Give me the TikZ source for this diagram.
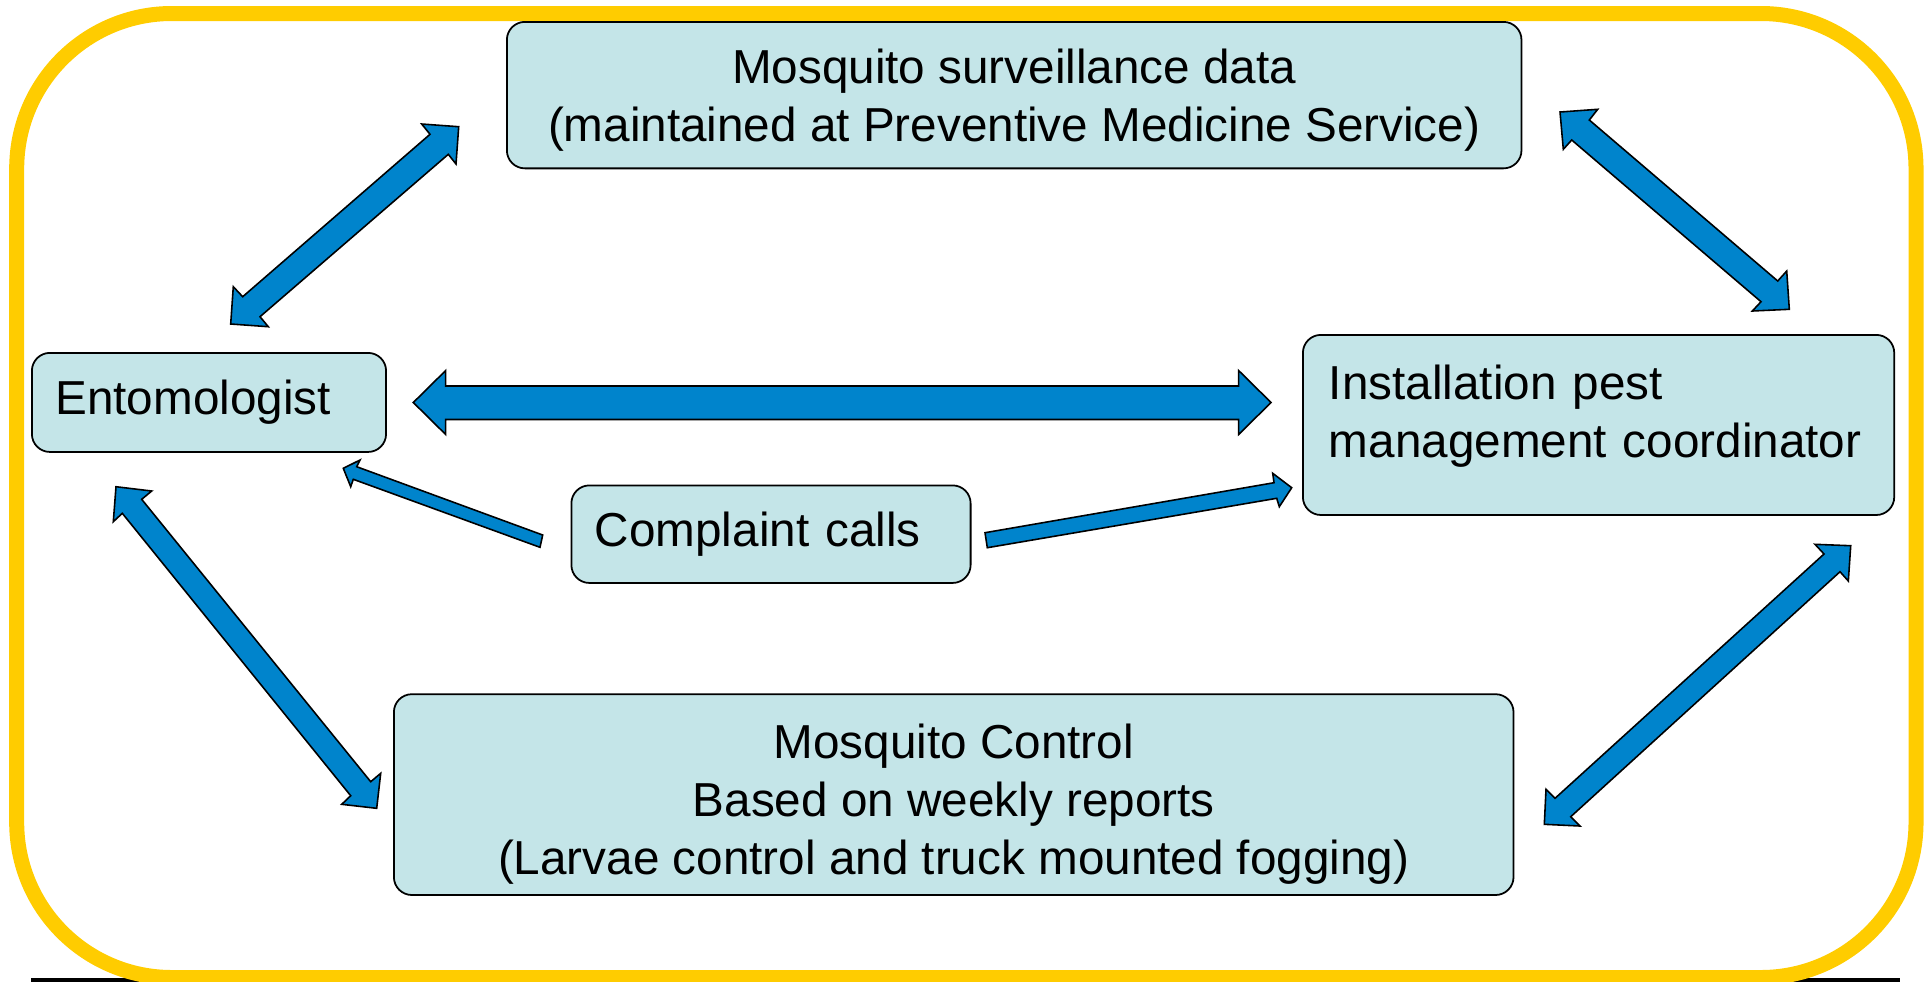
\documentclass[tikz,border=0pt]{standalone}
\usepackage{fontspec}
\setmainfont{Liberation Sans}
\definecolor{boxfill}{RGB}{196,229,232}
\definecolor{arrowblue}{RGB}{0,132,204}
\definecolor{frameyellow}{RGB}{255,204,0}
\tikzset{
  box/.style={draw=black, line width=0.5pt, fill=boxfill, rounded corners=0.18cm,
    anchor=north west, font=\fontsize{13.55pt}{16.5pt}\selectfont},
  leftbox/.style={box, align=left, inner xsep=#1},
  blockarrow/.style={draw=black, line width=0.45pt, fill=arrowblue, line join=miter},
}
\begin{document}
\begin{tikzpicture}[x=0.01cm, y=-0.01cm]
\useasboundingbox (0,0) rectangle (1931,981);
\clip (0,0) rectangle (1931,981);
% bottom black rule and yellow frame
\fill[black] (31,977.7) rectangle (1900,995);
\draw[frameyellow, line width=0.15cm, rounded corners=1.55cm] (16.7,13.5) rectangle (1916,977.5);

% boxes
\node[box, minimum width=10.14cm, minimum height=1.464cm] (data) at (506,21)
  {\raisebox{-0.06cm}[\height][\depth]{\begin{tabular}{@{}c@{}}Mosquito surveillance data\\(maintained at Preventive Medicine Service)\end{tabular}}};
\node[leftbox=0.235cm, text width=3.07cm, minimum height=0.99cm] (ent) at (31,352) {Entomologist};
\node[leftbox=0.26cm, text width=5.39cm, minimum height=1.80cm] (ipm) at (1302,334)
  {\raisebox{0.08cm}[\height][\depth]{\begin{tabular}{@{}l@{}}Installation pest\\management coordinator\end{tabular}}};
\node[leftbox=0.235cm, text width=3.52cm, minimum height=0.975cm] (calls) at (570.5,484.5) {Complaint calls};
\node[box, minimum width=11.19cm, minimum height=2.007cm] (ctrl) at (393,693.3)
  {\raisebox{-0.10cm}[\height][\depth]{\begin{tabular}{@{}c@{}}Mosquito Control\\Based on weekly reports\\(Larvae control and truck mounted fogging)\end{tabular}}};

% block arrows
% Entomologist <-> surveillance data
\draw[blockarrow] (458.7,126.7) -- (421.7,124) -- (430,134.3) -- (242.7,296.7) -- (233.3,286.7)
  -- (230.7,324) -- (268.3,326.7) -- (260,316.7) -- (448.3,154.3) -- (456,164) -- cycle;
% surveillance data <-> coordinator
\draw[blockarrow] (1560,112) -- (1597.7,109.3) -- (1589.3,120) -- (1777.7,281) -- (1786.7,271)
  -- (1789.3,309.3) -- (1752.3,311) -- (1761,301.7) -- (1571.7,140) -- (1563.3,149.3) -- cycle;
% Entomologist <-> coordinator
\draw[blockarrow] (413.3,402.5) -- (445.7,370.5) -- (445.7,386) -- (1238.6,386) -- (1238.6,370.5)
  -- (1271,402.5) -- (1238.6,434.5) -- (1238.6,419.5) -- (445.7,419.5) -- (445.7,434.5) -- cycle;
% Complaint calls -> Entomologist
\draw[blockarrow] (343.3,468.3) -- (360,460) -- (356.7,466.7) -- (542.7,535) -- (540,547.3)
  -- (353.3,479.3) -- (350.7,486.7) -- cycle;
% Complaint calls -> coordinator
\draw[blockarrow] (985,532.7) -- (1274,482.7) -- (1272.7,473.3) -- (1291.7,487.7) -- (1279.3,506.7)
  -- (1276.7,498.3) -- (987.3,547.7) -- cycle;
% Entomologist <-> Mosquito Control
\draw[blockarrow] (116,486.7) -- (151.7,491) -- (141.7,499.3) -- (370.7,781.7) -- (380.7,773.3)
  -- (376.7,808.3) -- (341.7,804.3) -- (350.7,795.7) -- (122.3,513.3) -- (113.3,521.7) -- cycle;
% coordinator <-> Mosquito Control
\draw[blockarrow] (1850.7,545.7) -- (1815,544.3) -- (1824,554) -- (1555,798.3) -- (1546,789.3)
  -- (1544.3,824.3) -- (1580,826) -- (1570.7,816.7) -- (1840,571.7) -- (1848.3,581) -- cycle;
\end{tikzpicture}
\end{document}
